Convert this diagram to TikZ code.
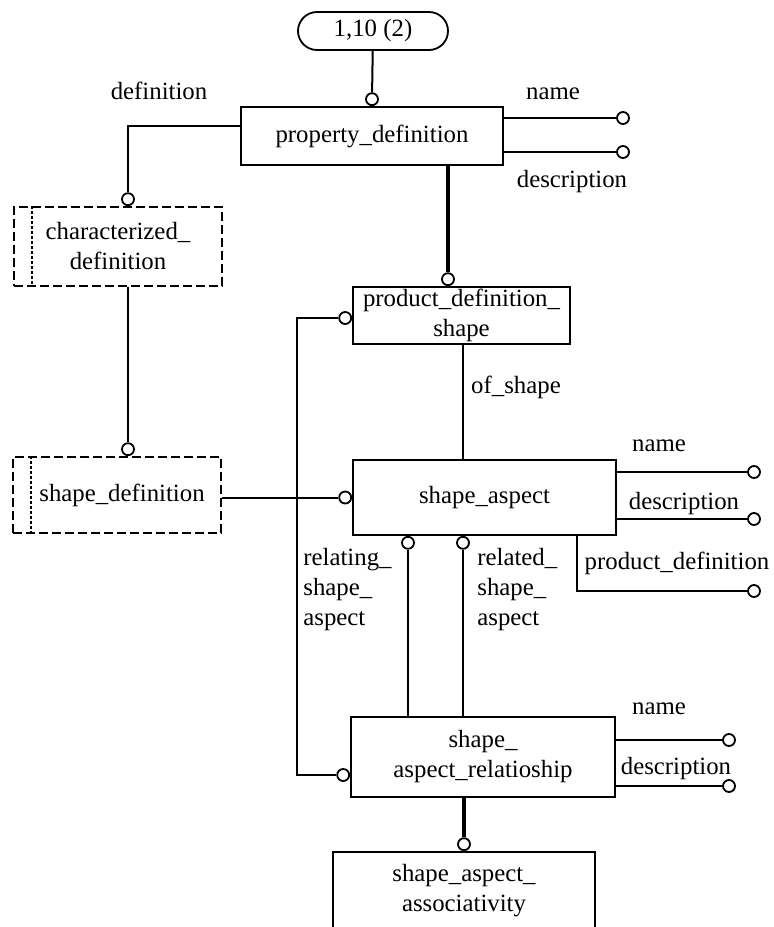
\documentclass[tikz,border=0pt]{standalone}
\usepackage{fontspec}
\setmainfont{Liberation Serif}
\usetikzlibrary{positioning}

\tikzset{
    entity/.style={draw, rectangle, line width=0.9pt, align=center, inner sep=0pt},
    dentity/.style={entity, dash pattern=on 4.5pt off 2pt},
    ring/.style={draw, circle, fill=white, line width=0.9pt, inner sep=0pt, minimum size=6pt},
    link/.style={line width=1pt},
    heavy link/.style={line width=1.6pt},
    inner line/.style={line width=0.7pt, dash pattern=on 1.5pt off 1pt}
}

\begin{document}
\begin{tikzpicture}[x=0.5pt, y=-0.5pt, font=\fontsize{12.4}{15}\selectfont]
    \path[use as bounding box, clip] (0,0) rectangle (773,927);

    % entities
    \node[draw, rounded corners=9.5pt, minimum width=75pt, minimum height=19pt, line width=0.9pt] (ref) at (373,31) {1,10 (2)};
    \node[entity, minimum width=131pt, minimum height=29pt] (pd) at (372,136) {property\_definition};
    \node[dentity, minimum width=104pt, minimum height=39.5pt] (cd) at (118,246.5) {characterized\_\\definition};
    \node[dentity, minimum width=104pt, minimum height=38pt] (sd) at (117,495) {\hspace*{5pt}shape\_definition};
    \node[entity, minimum width=108.5pt, minimum height=28.5pt] (pds) at (461.5,315.5) {product\_definition\_\\shape};
    \node[entity, minimum width=131.5pt, minimum height=37.5pt] (sa) at (484.5,497.5) {shape\_aspect};
    \node[entity, minimum width=132pt, minimum height=40pt] (sar) at (483,757) {shape\_\\aspect\_relatioship};
    \node[entity, minimum width=131pt, minimum height=39pt] (saa) at (464,891) {shape\_aspect\_\\associativity};

    \draw[inner line] ([xshift=9.5pt]cd.north west) -- ([xshift=9.5pt]cd.south west);
    \draw[inner line] ([xshift=9.5pt]sd.north west) -- ([xshift=9.5pt]sd.south west);

    % rings on the entities
    \node[ring, anchor=south] (pdtop) at (pd.north) {};
    \node[ring, anchor=south] (cdtop) at ([xshift=5pt]cd.north) {};
    \node[ring, anchor=south] (sdtop) at ([xshift=5.5pt]sd.north) {};
    \node[ring, anchor=south] (pdstop) at ([xshift=-6.75pt]pds.north) {};
    \node[ring, anchor=east] (pdsleft) at ([yshift=-1.25pt]pds.west) {};
    \node[ring, anchor=east] (saleft) at (sa.west) {};
    \node[ring, anchor=north] (relating) at ([xshift=-38.25pt]sa.south) {};
    \node[ring, anchor=north] (related) at ([xshift=-10.75pt]sa.south) {};
    \node[ring, anchor=east] (sarleft) at ([yshift=-9pt]sar.west) {};
    \node[ring, anchor=south] (saatop) at (saa.north) {};

    % attribute ends
    \node[ring] (pdname) at (623,118) {};
    \node[ring] (pddesc) at (623,152) {};
    \node[ring] (saname) at (754,472) {};
    \node[ring] (sadesc) at (754,519) {};
    \node[ring] (saprod) at (754,591) {};
    \node[ring] (sarname) at (729,740) {};
    \node[ring] (sardesc) at (729,786) {};
    \coordinate (bus) at (297,0);

    % connectors
    \draw[link] (ref) -- (pdtop);
    \draw[link] ([yshift=5pt]pd.west) -| (cdtop);
    \draw[link] (cd.south -| sdtop) -- (sdtop);
    \draw[link] (sd.east |- saleft) -- (saleft);
    \draw[heavy link] (pd.south -| pdstop) -- (pdstop);
    \draw[link] (pdsleft) -- (pdsleft -| bus) |- (sarleft);
    \draw[link] ([xshift=0.75pt]pds.south) -- ([xshift=0.75pt]pds.south |- sa.north);
    \draw[link] (relating) -- (relating |- sar.north);
    \draw[link] (related) -- (related |- sar.north);
    \draw[heavy link] (sar.south -| saatop) -- (saatop);

    \draw[link] (pd.east |- pdname) -- (pdname);
    \draw[link] (pd.east |- pddesc) -- (pddesc);
    \draw[link] (sa.east |- saname) -- (saname);
    \draw[link] (sa.east |- sadesc) -- (sadesc);
    \draw[link] ([xshift=46.25pt]sa.south) |- (saprod);
    \draw[link] (sar.east |- sarname) -- (sarname);
    \draw[link] (sar.east |- sardesc) -- (sardesc);

    % labels
    \node (lbldef) at (159,91) {definition};
    \node (lblpdname) at (553,94) {name};
    \node (lblpddesc) at (572,182) {description};
    \node (lblofshape) at (516,387) {of\_shape};
    \node (lblsaname) at (659,446) {name};
    \node (lblsadesc) at (684,504) {description};
    \node (lblsaprod) at (677,563) {product\_definition};
    \node[align=left, anchor=north west, inner sep=0pt] (lblrelating) at (303,548) {relating\_\\shape\_\\aspect};
    \node[align=left, anchor=north west, inner sep=0pt] (lblrelated) at (477,548) {related\_\\shape\_\\aspect};
    \node (lblsarname) at (659,709) {name};
    \node (lblsardesc) at (676,769) {description};
\end{tikzpicture}
\end{document}
